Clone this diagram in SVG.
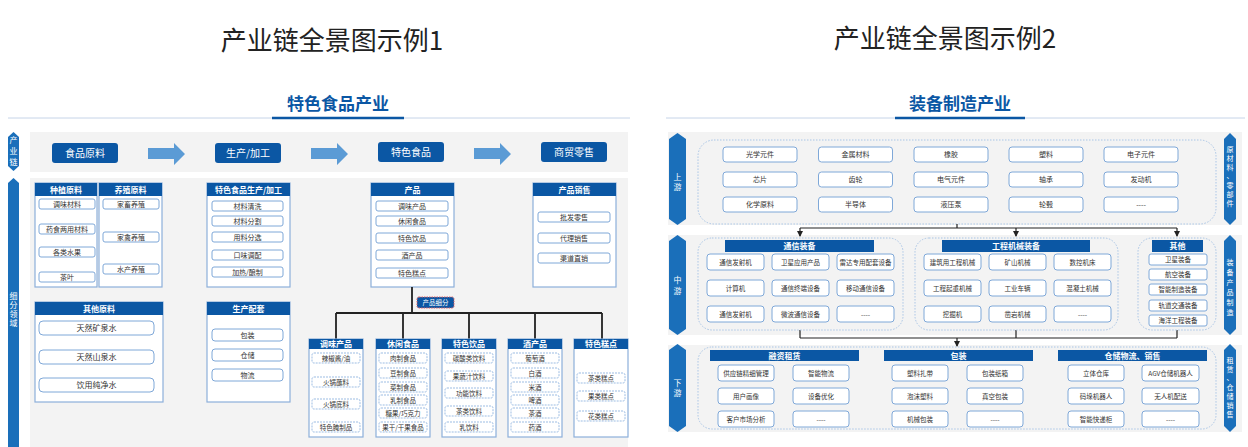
<svg xmlns="http://www.w3.org/2000/svg" width="1248" height="447" viewBox="0 0 1248 447">
<defs>
<style>
text{font-family:"Noto Sans CJK SC","Noto Sans",sans-serif}
.it{fill:#fff;stroke:#7fa8d8;stroke-width:1}
.itd{fill:#fff;stroke:#9dbde3;stroke-width:1;stroke-dasharray:2 1}
.pn{fill:#fff;stroke:#8db0da;stroke-width:1.2}
.hd{fill:#0b57a4}
.band{fill:#f3f3f3}
.ct{fill:none;stroke:#a9c5e6;stroke-width:1;stroke-dasharray:1.5 1.5}
.t7{font-size:7px;fill:#333;text-anchor:middle}
.t6{font-size:6.5px;fill:#333;text-anchor:middle}
.t8{font-size:8px;fill:#333;text-anchor:middle}
.th{font-size:8px;fill:#fff;text-anchor:middle;font-weight:bold}
.tw{font-size:10px;fill:#fff;text-anchor:middle}
.tv{font-size:8px;fill:#fff;text-anchor:middle}
.tr{font-size:7px;fill:#fff;text-anchor:middle}
.lab{fill:#1a6fba}
.arw{fill:#5b9bd5}
.ln{fill:none;stroke:#222;stroke-width:1.8}
.lr{fill:none;stroke:#222;stroke-width:1.2}
.ttl{font-size:26px;fill:#222;text-anchor:middle}
.sub{font-size:17px;fill:#0b57a4;text-anchor:middle;font-weight:bold}
</style>
<marker id="ah" viewBox="0 0 6 6" refX="5" refY="3" markerWidth="5" markerHeight="5" orient="auto">
<path d="M0,0 L6,3 L0,6 z" fill="#222"/>
</marker>
</defs>
<rect width="1248" height="447" fill="#fff"/>

<!-- Titles -->
<g id="titles">
<text class="ttl" x="332" y="50">产业链全景图示例1</text>
<text class="ttl" x="945" y="48">产业链全景图示例2</text>
<text class="sub" x="338" y="110">特色食品产业</text>
<line x1="8" y1="118" x2="630" y2="118" stroke="#c6d4e8" stroke-width="1"/>
<line x1="272" y1="118" x2="404" y2="118" stroke="#0b57a4" stroke-width="2.5"/>
<text class="sub" x="960" y="110">装备制造产业</text>
<line x1="666" y1="118" x2="1245" y2="118" stroke="#c6d4e8" stroke-width="1"/>
<line x1="895" y1="118" x2="1025" y2="118" stroke="#0b57a4" stroke-width="2.5"/>
</g>

<!-- ===== Left diagram ===== -->
<g id="left-bg">
<rect class="band" x="30" y="132" width="598" height="40"/>
<rect class="band" x="30" y="178" width="598" height="269" fill="#f5f5f5"/>
<polygon class="lab" points="13.5,132 19,137 19,166 13.5,171 8,166 8,137"/>
<text class="tv" x="13.5" y="143">产</text>
<text class="tv" x="13.5" y="154">业</text>
<text class="tv" x="13.5" y="165">链</text>
<polygon class="lab" points="13.5,178 19,183 19,447 8,447 8,183"/>
<text class="tv" x="13.5" y="299">细</text>
<text class="tv" x="13.5" y="308">分</text>
<text class="tv" x="13.5" y="317">领</text>
<text class="tv" x="13.5" y="326">域</text>
</g>

<g id="chain-top">
<rect class="hd" x="52" y="143" width="66" height="20" rx="3"/>
<text class="tw" x="85" y="156.5">食品原料</text>
<polygon class="arw" points="148,148 174,148 174,143 185,154 174,165 174,159 148,159"/>
<rect class="hd" x="215" y="143" width="66" height="20" rx="3"/>
<text class="tw" x="248" y="156.5">生产/加工</text>
<polygon class="arw" points="311,148 337,148 337,143 348,154 337,165 337,159 311,159"/>
<rect class="hd" x="378" y="142" width="66" height="20" rx="3"/>
<text class="tw" x="411" y="155.5">特色食品</text>
<polygon class="arw" points="474,148 500,148 500,143 511,154 500,165 500,159 474,159"/>
<rect class="hd" x="541" y="142" width="66" height="20" rx="3"/>
<text class="tw" x="574" y="155.5">商贸零售</text>
</g>

<g id="p-zhongzhi">
<rect class="pn" x="35" y="183" width="62" height="104"/>
<rect class="hd" x="35" y="183" width="62" height="13"/>
<text class="th" x="66" y="192.5">种植原料</text>
<rect class="it" x="39" y="199" width="56" height="10" rx="2"/><text class="t7" x="67" y="206.5">调味材料</text>
<rect class="it" x="39" y="224" width="56" height="10" rx="2"/><text class="t7" x="67" y="231.5">药食两用材料</text>
<rect class="it" x="39" y="247" width="56" height="10" rx="2"/><text class="t7" x="67" y="254.5">各类水果</text>
<rect class="it" x="39" y="272" width="56" height="10" rx="2"/><text class="t7" x="67" y="279.5">茶叶</text>
</g>

<g id="p-yangzhi">
<rect class="pn" x="99" y="183" width="63" height="104"/>
<rect class="hd" x="99" y="183" width="63" height="13"/>
<text class="th" x="130.5" y="192.5">养殖原料</text>
<rect class="it" x="103" y="199" width="56" height="10" rx="2"/><text class="t7" x="131" y="206.5">家畜养殖</text>
<rect class="it" x="103" y="232" width="56" height="10" rx="2"/><text class="t7" x="131" y="239.5">家禽养殖</text>
<rect class="it" x="103" y="264" width="56" height="10" rx="2"/><text class="t7" x="131" y="271.5">水产养殖</text>
</g>

<g id="p-jiagong">
<rect class="pn" x="207" y="183" width="83" height="104"/>
<rect class="hd" x="207" y="183" width="83" height="13"/>
<text class="th" x="248.5" y="192.5">特色食品生产/加工</text>
<rect class="it" x="212" y="201" width="71" height="10" rx="2"/><text class="t7" x="247.5" y="208.5">材料清洗</text>
<rect class="it" x="212" y="216" width="71" height="10" rx="2"/><text class="t7" x="247.5" y="223.5">材料分割</text>
<rect class="it" x="212" y="232" width="71" height="10" rx="2"/><text class="t7" x="247.5" y="239.5">用料分选</text>
<rect class="it" x="212" y="250" width="71" height="10" rx="2"/><text class="t7" x="247.5" y="257.5">口味调配</text>
<rect class="it" x="212" y="267" width="71" height="10" rx="2"/><text class="t7" x="247.5" y="274.5">加热/酿制</text>
</g>

<g id="p-chanpin">
<rect class="pn" x="371" y="183" width="83" height="104"/>
<rect class="hd" x="371" y="183" width="83" height="13"/>
<text class="th" x="412.5" y="192.5">产品</text>
<rect class="it" x="376" y="201" width="72" height="10" rx="2"/><text class="t7" x="412" y="208.5">调味产品</text>
<rect class="it" x="376" y="216" width="72" height="10" rx="2"/><text class="t7" x="412" y="223.5">休闲食品</text>
<rect class="it" x="376" y="233" width="72" height="10" rx="2"/><text class="t7" x="412" y="240.5">特色饮品</text>
<rect class="it" x="376" y="250" width="72" height="10" rx="2"/><text class="t7" x="412" y="257.5">酒产品</text>
<rect class="it" x="376" y="268" width="72" height="10" rx="2"/><text class="t7" x="412" y="275.5">特色糕点</text>
</g>

<g id="p-xiaoshou">
<rect class="pn" x="533" y="183" width="83" height="104"/>
<rect class="hd" x="533" y="183" width="83" height="13"/>
<text class="th" x="574.5" y="192.5">产品销售</text>
<rect class="it" x="538" y="212" width="72" height="10" rx="2"/><text class="t7" x="574" y="219.5">批发零售</text>
<rect class="it" x="538" y="233" width="72" height="10" rx="2"/><text class="t7" x="574" y="240.5">代理销售</text>
<rect class="it" x="538" y="253" width="72" height="10" rx="2"/><text class="t7" x="574" y="260.5">渠道直销</text>
</g>

<g id="p-qita">
<rect class="pn" x="35" y="302" width="128" height="100"/>
<rect class="hd" x="35" y="302" width="128" height="13"/>
<text class="th" x="99" y="311.5">其他原料</text>
<rect class="it" x="39" y="321" width="115" height="14" rx="4"/><text class="t8" x="96.5" y="330.5">天然矿泉水</text>
<rect class="it" x="39" y="350" width="115" height="14" rx="4"/><text class="t8" x="96.5" y="359.5">天然山泉水</text>
<rect class="it" x="39" y="378" width="115" height="14" rx="4"/><text class="t8" x="96.5" y="387.5">饮用纯净水</text>
</g>

<g id="p-peitao">
<rect class="pn" x="207" y="302" width="83" height="100"/>
<rect class="hd" x="207" y="302" width="83" height="13"/>
<text class="th" x="248.5" y="311.5">生产配套</text>
<rect class="it" x="212" y="329" width="71" height="12" rx="3"/><text class="t7" x="247.5" y="337.5">包装</text>
<rect class="it" x="212" y="349" width="71" height="12" rx="3"/><text class="t7" x="247.5" y="357.5">仓储</text>
<rect class="it" x="212" y="369" width="71" height="12" rx="3"/><text class="t7" x="247.5" y="377.5">物流</text>
</g>

<g id="left-connectors">
<path class="ln" d="M412,287 V313 M336,313 H602 M336,313 V339 M403,313 V339 M469,313 V339 M535,313 V339 M602,313 V339"/>
</g>
<g id="xifen-label">
<rect x="417" y="297" width="37" height="11" rx="2" fill="#0b57a4" stroke="#e06060" stroke-width="1" stroke-dasharray="1.5 1"/>
<text x="435.5" y="305" font-size="6.5" fill="#fff" text-anchor="middle">产品细分</text>
</g>

<g id="s-tiaowei">
<rect class="pn" x="309" y="339" width="54" height="98"/>
<rect class="hd" x="309" y="339" width="54" height="10"/>
<text class="th" x="336" y="347">调味产品</text>
<rect class="itd" x="312" y="353" width="48" height="10" rx="2"/><text class="t6" x="336" y="360.5">辣椒酱/油</text>
<rect class="itd" x="312" y="377" width="48" height="10" rx="2"/><text class="t6" x="336" y="384.5">火锅蘸料</text>
<rect class="itd" x="312" y="399" width="48" height="10" rx="2"/><text class="t6" x="336" y="406.5">火锅底料</text>
<rect class="itd" x="312" y="422" width="48" height="10" rx="2"/><text class="t6" x="336" y="429.5">特色腌制品</text>
</g>
<g id="s-xiuxian">
<rect class="pn" x="376" y="339" width="54" height="98"/>
<rect class="hd" x="376" y="339" width="54" height="10"/>
<text class="th" x="403" y="347">休闲食品</text>
<rect class="itd" x="379" y="353" width="48" height="10" rx="2"/><text class="t6" x="403" y="360.5">肉制食品</text>
<rect class="itd" x="379" y="368" width="48" height="10" rx="2"/><text class="t6" x="403" y="375.5">豆制食品</text>
<rect class="itd" x="379" y="382" width="48" height="10" rx="2"/><text class="t6" x="403" y="389.5">菜制食品</text>
<rect class="itd" x="379" y="395" width="48" height="10" rx="2"/><text class="t6" x="403" y="402.5">乳制食品</text>
<rect class="itd" x="379" y="408" width="48" height="10" rx="2"/><text class="t6" x="403" y="415.5">糖果/巧克力</text>
<rect class="itd" x="379" y="422" width="48" height="10" rx="2"/><text class="t6" x="403" y="429.5">果干/干果食品</text>
</g>
<g id="s-yinpin">
<rect class="pn" x="442" y="339" width="54" height="98"/>
<rect class="hd" x="442" y="339" width="54" height="10"/>
<text class="th" x="469" y="347">特色饮品</text>
<rect class="itd" x="445" y="353" width="48" height="10" rx="2"/><text class="t6" x="469" y="360.5">碳酸类饮料</text>
<rect class="itd" x="445" y="371" width="48" height="10" rx="2"/><text class="t6" x="469" y="378.5">果蔬汁饮料</text>
<rect class="itd" x="445" y="388" width="48" height="10" rx="2"/><text class="t6" x="469" y="395.5">功能饮料</text>
<rect class="itd" x="445" y="406" width="48" height="10" rx="2"/><text class="t6" x="469" y="413.5">茶类饮料</text>
<rect class="itd" x="445" y="422" width="48" height="10" rx="2"/><text class="t6" x="469" y="429.5">乳饮料</text>
</g>
<g id="s-jiu">
<rect class="pn" x="508" y="339" width="54" height="98"/>
<rect class="hd" x="508" y="339" width="54" height="10"/>
<text class="th" x="535" y="347">酒产品</text>
<rect class="itd" x="511" y="353" width="48" height="10" rx="2"/><text class="t6" x="535" y="360.5">葡萄酒</text>
<rect class="itd" x="511" y="368" width="48" height="10" rx="2"/><text class="t6" x="535" y="375.5">白酒</text>
<rect class="itd" x="511" y="382" width="48" height="10" rx="2"/><text class="t6" x="535" y="389.5">米酒</text>
<rect class="itd" x="511" y="395" width="48" height="10" rx="2"/><text class="t6" x="535" y="402.5">啤酒</text>
<rect class="itd" x="511" y="408" width="48" height="10" rx="2"/><text class="t6" x="535" y="415.5">茶酒</text>
<rect class="itd" x="511" y="422" width="48" height="10" rx="2"/><text class="t6" x="535" y="429.5">药酒</text>
</g>
<g id="s-gaodian">
<rect class="pn" x="574" y="339" width="54" height="98"/>
<rect class="hd" x="574" y="339" width="54" height="10"/>
<text class="th" x="601" y="347">特色糕点</text>
<rect class="itd" x="577" y="373" width="48" height="10" rx="2"/><text class="t6" x="601" y="380.5">茶类糕点</text>
<rect class="itd" x="577" y="391" width="48" height="10" rx="2"/><text class="t6" x="601" y="398.5">果类糕点</text>
<rect class="itd" x="577" y="411" width="48" height="10" rx="2"/><text class="t6" x="601" y="418.5">花类糕点</text>
</g>

<!-- ===== Right diagram ===== -->
<g id="right-bg">
<rect class="band" x="668" y="132" width="574" height="93"/>
<rect class="band" x="668" y="235" width="574" height="100"/>
<rect class="band" x="668" y="345" width="574" height="87"/>
<polygon class="lab" points="677.5,133 686,139 686,219 677.5,225 669,219 669,139"/>
<text class="tv" x="677.5" y="180">上</text><text class="tv" x="677.5" y="190">游</text>
<polygon class="lab" points="677.5,235 686,241 686,329 677.5,335 669,329 669,241"/>
<text class="tv" x="677.5" y="283">中</text><text class="tv" x="677.5" y="294">游</text>
<polygon class="lab" points="677.5,344 686,350 686,426 677.5,432 669,426 669,350"/>
<text class="tv" x="677.5" y="386">下</text><text class="tv" x="677.5" y="396">游</text>
<polygon class="lab" points="1230,133 1236,139 1236,219 1230,225 1224,219 1224,139"/>
<text class="tr" x="1230" y="152">原</text><text class="tr" x="1230" y="161">材</text><text class="tr" x="1230" y="170">料</text><text class="tr" x="1230" y="178">、</text><text class="tr" x="1230" y="188">零</text><text class="tr" x="1230" y="197">部</text><text class="tr" x="1230" y="206">件</text>
<polygon class="lab" points="1230,235 1236,241 1236,329 1230,335 1224,329 1224,241"/>
<text class="tr" x="1230" y="265">装</text><text class="tr" x="1230" y="275">备</text><text class="tr" x="1230" y="285">产</text><text class="tr" x="1230" y="295">品</text><text class="tr" x="1230" y="305">制</text><text class="tr" x="1230" y="315">造</text>
<polygon class="lab" points="1230,344 1236,350 1236,426 1230,432 1224,426 1224,350"/>
<text class="tr" x="1230" y="363">租</text><text class="tr" x="1230" y="372">赁</text><text class="tr" x="1230" y="380">、</text><text class="tr" x="1230" y="390">仓</text><text class="tr" x="1230" y="399">储</text><text class="tr" x="1230" y="408">销</text><text class="tr" x="1230" y="417">售</text>
</g>

<g id="upstream">
<rect class="ct" x="698" y="140" width="518" height="84" rx="16"/>
<rect class="it" x="723" y="147" width="74" height="15" rx="3"/><text class="t7" x="760" y="157">光学元件</text>
<rect class="it" x="818.5" y="147" width="74" height="15" rx="3"/><text class="t7" x="855.5" y="157">金属材料</text>
<rect class="it" x="914" y="147" width="74" height="15" rx="3"/><text class="t7" x="951" y="157">橡胶</text>
<rect class="it" x="1009" y="147" width="74" height="15" rx="3"/><text class="t7" x="1046" y="157">塑料</text>
<rect class="it" x="1104" y="147" width="74" height="15" rx="3"/><text class="t7" x="1141" y="157">电子元件</text>
<rect class="it" x="723" y="172" width="74" height="15" rx="3"/><text class="t7" x="760" y="182">芯片</text>
<rect class="it" x="818.5" y="172" width="74" height="15" rx="3"/><text class="t7" x="855.5" y="182">齿轮</text>
<rect class="it" x="914" y="172" width="74" height="15" rx="3"/><text class="t7" x="951" y="182">电气元件</text>
<rect class="it" x="1009" y="172" width="74" height="15" rx="3"/><text class="t7" x="1046" y="182">轴承</text>
<rect class="it" x="1104" y="172" width="74" height="15" rx="3"/><text class="t7" x="1141" y="182">发动机</text>
<rect class="it" x="723" y="197" width="74" height="15" rx="3"/><text class="t7" x="760" y="207">化学原料</text>
<rect class="it" x="818.5" y="197" width="74" height="15" rx="3"/><text class="t7" x="855.5" y="207">半导体</text>
<rect class="it" x="914" y="197" width="74" height="15" rx="3"/><text class="t7" x="951" y="207">液压泵</text>
<rect class="it" x="1009" y="197" width="74" height="15" rx="3"/><text class="t7" x="1046" y="207">轮毂</text>
<rect class="it" x="1104" y="197" width="74" height="15" rx="3"/><text class="t7" x="1141" y="207">----</text>
</g>

<g id="right-connectors">
<path class="lr" d="M957,224 V228 M800,228 H1177"/>
<path class="lr" d="M800,228 V236" marker-end="url(#ah)"/>
<path class="lr" d="M1016,228 V236" marker-end="url(#ah)"/>
<path class="lr" d="M1177,228 V236" marker-end="url(#ah)"/>
<path class="lr" d="M800,330 V338 M1016,330 V338 M1177,330 V338 M800,338 H1177"/>
<path class="lr" d="M957,338 V346" marker-end="url(#ah)"/>
</g>

<g id="tongxin">
<rect class="ct" x="698" y="238" width="205" height="92" rx="14"/>
<rect class="hd" x="725" y="240" width="149" height="12"/>
<text class="th" x="799.5" y="249">通信装备</text>
<rect class="it" x="707" y="254" width="57" height="16" rx="3"/><text class="t6" x="735.5" y="264.5">通信发射机</text>
<rect class="it" x="772" y="254" width="57" height="16" rx="3"/><text class="t6" x="800.5" y="264.5">卫星应用产品</text>
<rect class="it" x="837" y="254" width="57" height="16" rx="3"/><text class="t6" x="865.5" y="264.5">雷达专用配套设备</text>
<rect class="it" x="707" y="280" width="57" height="16" rx="3"/><text class="t6" x="735.5" y="290.5">计算机</text>
<rect class="it" x="772" y="280" width="57" height="16" rx="3"/><text class="t6" x="800.5" y="290.5">通信终端设备</text>
<rect class="it" x="837" y="280" width="57" height="16" rx="3"/><text class="t6" x="865.5" y="290.5">移动通信设备</text>
<rect class="it" x="707" y="306" width="57" height="16" rx="3"/><text class="t6" x="735.5" y="316.5">通信发射机</text>
<rect class="it" x="772" y="306" width="57" height="16" rx="3"/><text class="t6" x="800.5" y="316.5">微波通信设备</text>
<rect class="it" x="837" y="306" width="57" height="16" rx="3"/><text class="t6" x="865.5" y="316.5">----</text>
</g>

<g id="gongcheng">
<rect class="ct" x="915" y="238" width="203" height="92" rx="14"/>
<rect class="hd" x="942" y="240" width="148" height="12"/>
<text class="th" x="1016" y="249">工程机械装备</text>
<rect class="it" x="924" y="254" width="57" height="16" rx="3"/><text class="t6" x="952.5" y="264.5">建筑用工程机械</text>
<rect class="it" x="989" y="254" width="57" height="16" rx="3"/><text class="t6" x="1017.5" y="264.5">矿山机械</text>
<rect class="it" x="1054" y="254" width="57" height="16" rx="3"/><text class="t6" x="1082.5" y="264.5">数控机床</text>
<rect class="it" x="924" y="280" width="57" height="16" rx="3"/><text class="t6" x="952.5" y="290.5">工程起重机械</text>
<rect class="it" x="989" y="280" width="57" height="16" rx="3"/><text class="t6" x="1017.5" y="290.5">工业车辆</text>
<rect class="it" x="1054" y="280" width="57" height="16" rx="3"/><text class="t6" x="1082.5" y="290.5">混凝土机械</text>
<rect class="it" x="924" y="306" width="57" height="16" rx="3"/><text class="t6" x="952.5" y="316.5">挖掘机</text>
<rect class="it" x="989" y="306" width="57" height="16" rx="3"/><text class="t6" x="1017.5" y="316.5">凿岩机械</text>
<rect class="it" x="1054" y="306" width="57" height="16" rx="3"/><text class="t6" x="1082.5" y="316.5">----</text>
</g>

<g id="qita-zb">
<rect class="ct" x="1138" y="238" width="78" height="92" rx="14"/>
<rect class="hd" x="1152" y="240" width="51" height="12"/>
<text class="th" x="1177.5" y="249">其他</text>
<rect class="it" x="1149" y="254" width="58" height="11" rx="2"/><text class="t6" x="1178" y="262">卫星装备</text>
<rect class="it" x="1149" y="269" width="58" height="11" rx="2"/><text class="t6" x="1178" y="277">航空装备</text>
<rect class="it" x="1149" y="284" width="58" height="11" rx="2"/><text class="t6" x="1178" y="292">智能制造装备</text>
<rect class="it" x="1149" y="300" width="58" height="11" rx="2"/><text class="t6" x="1178" y="308">轨道交通装备</text>
<rect class="it" x="1149" y="315" width="58" height="11" rx="2"/><text class="t6" x="1178" y="323">海洋工程装备</text>
</g>

<g id="downstream">
<rect class="ct" x="698" y="347" width="518" height="82" rx="14"/>
<rect class="hd" x="710" y="350" width="149" height="11"/>
<text class="th" x="784.5" y="358.5">融资租赁</text>
<rect class="hd" x="884" y="350" width="149" height="11"/>
<text class="th" x="958.5" y="358.5">包装</text>
<rect class="hd" x="1058" y="350" width="149" height="11"/>
<text class="th" x="1132.5" y="358.5">仓储物流、销售</text>
</g>
<g id="rongzi">
<rect class="it" x="718" y="365" width="56" height="16" rx="3"/><text class="t6" x="746" y="375.5">供应链精细管理</text>
<rect class="it" x="793" y="365" width="56" height="16" rx="3"/><text class="t6" x="821" y="375.5">智能物流</text>
<rect class="it" x="718" y="388" width="56" height="16" rx="3"/><text class="t6" x="746" y="398.5">用户画像</text>
<rect class="it" x="793" y="388" width="56" height="16" rx="3"/><text class="t6" x="821" y="398.5">设备优化</text>
<rect class="it" x="718" y="411" width="56" height="16" rx="3"/><text class="t6" x="746" y="421.5">客户市场分析</text>
<rect class="it" x="793" y="411" width="56" height="16" rx="3"/><text class="t6" x="821" y="421.5">----</text>
</g>
<g id="baozhuang">
<rect class="it" x="892" y="365" width="56" height="16" rx="3"/><text class="t6" x="920" y="375.5">塑料扎带</text>
<rect class="it" x="967" y="365" width="56" height="16" rx="3"/><text class="t6" x="995" y="375.5">包装纸箱</text>
<rect class="it" x="892" y="388" width="56" height="16" rx="3"/><text class="t6" x="920" y="398.5">泡沫塑料</text>
<rect class="it" x="967" y="388" width="56" height="16" rx="3"/><text class="t6" x="995" y="398.5">真空包装</text>
<rect class="it" x="892" y="411" width="56" height="16" rx="3"/><text class="t6" x="920" y="421.5">机械包装</text>
<rect class="it" x="967" y="411" width="56" height="16" rx="3"/><text class="t6" x="995" y="421.5">----</text>
</g>
<g id="cangchu">
<rect class="it" x="1068" y="365" width="56" height="16" rx="3"/><text class="t6" x="1096" y="375.5">立体仓库</text>
<rect class="it" x="1142" y="365" width="57" height="16" rx="3"/><text class="t6" x="1170.5" y="375.5">AGV仓储机器人</text>
<rect class="it" x="1068" y="388" width="56" height="16" rx="3"/><text class="t6" x="1096" y="398.5">码垛机器人</text>
<rect class="it" x="1142" y="388" width="57" height="16" rx="3"/><text class="t6" x="1170.5" y="398.5">无人机配送</text>
<rect class="it" x="1068" y="411" width="56" height="16" rx="3"/><text class="t6" x="1096" y="421.5">智能快递柜</text>
<rect class="it" x="1142" y="411" width="57" height="16" rx="3"/><text class="t6" x="1170.5" y="421.5">----</text>
</g>
</svg>
